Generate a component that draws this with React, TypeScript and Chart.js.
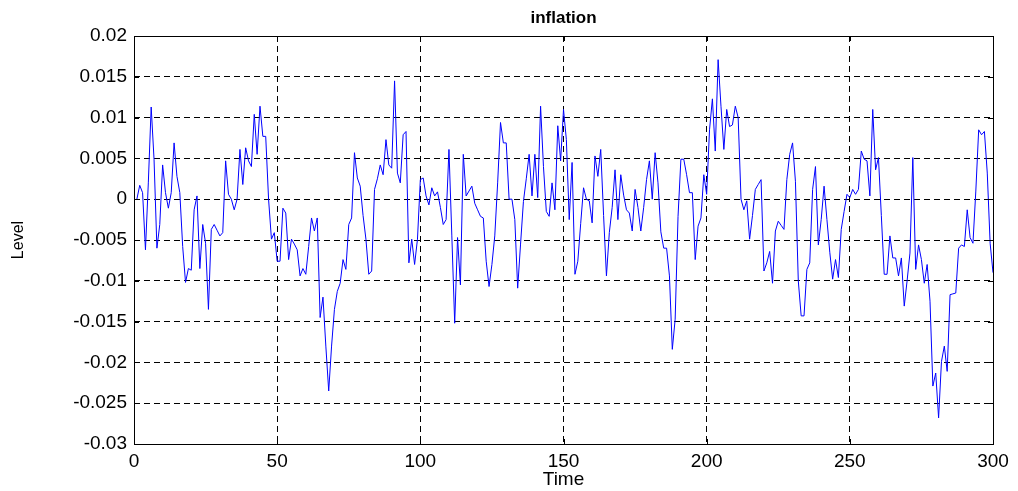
import React, { useEffect, useRef } from 'react';
import { Chart, registerables } from 'chart.js';

Chart.register(...registerables);

const inflation: number[] = [
  0, 0.0017, 0.0008, -0.0062, 0.002, 0.0113, 0.0049, -0.006, -0.0031, 0.0042,
  0.0008, -0.0011, 0.0008, 0.0069, 0.0028, 0.0008, -0.0058, -0.0102, -0.0085, -0.0087,
  -0.0013, 0.0004, -0.0085, -0.0031, -0.0054, -0.0135, -0.0037, -0.0031, -0.0038, -0.0045,
  -0.0041, 0.0047, 0.0006, 0.0, -0.0013, 0.0, 0.0061, 0.0018, 0.0063, 0.0047,
  0.004, 0.0104, 0.0055, 0.0114, 0.0077, 0.0077, 0.0, -0.0049, -0.0041, -0.0076,
  -0.0076, -0.0011, -0.0017, -0.0074, -0.0049, -0.0055, -0.0062, -0.0094, -0.0085, -0.0092,
  -0.0058, -0.0023, -0.0039, -0.0023, -0.0145, -0.012, -0.018, -0.0235, -0.018, -0.0135,
  -0.0113, -0.0103, -0.0074, -0.0086, -0.0031, -0.0023, 0.0057, 0.0026, 0.0016, -0.002,
  -0.0049, -0.0092, -0.0088, 0.0012, 0.0025, 0.0042, 0.003, 0.0073, 0.0042, 0.0038,
  0.0145, 0.0032, 0.002, 0.0079, 0.0083, -0.0078, -0.0049, -0.008, -0.0049, 0.0024,
  0.0026, 0.0004, -0.0007, 0.0014, 0.0004, 0.0009, -0.001, -0.0031, -0.0025, 0.0061,
  -0.0045, -0.0152, -0.0047, -0.0105, 0.0055, 0.0004, 0.001, 0.0016, -0.0005, -0.0013,
  -0.0021, -0.0023, -0.0076, -0.0107, -0.008, -0.0045, 0.002, 0.0094, 0.0069, 0.0069,
  0.0, 0.0, -0.0025, -0.0109, -0.0055, -0.0003, 0.0025, 0.0055, 0.0004, 0.0055,
  0.0002, 0.0114, 0.004, -0.0015, -0.0021, 0.002, -0.0013, 0.009, 0.0047, 0.011,
  0.0073, -0.0025, 0.0045, -0.0092, -0.0076, -0.003, 0.0014, 0.0, -0.0002, -0.0029,
  0.0053, 0.0028, 0.0061, -0.002, -0.0094, -0.0041, -0.001, 0.0036, -0.0025, 0.003,
  0.0005, -0.0013, -0.0017, -0.0039, 0.0012, -0.001, -0.0039, -0.001, 0.0024, 0.0047,
  0.0, 0.0057, 0.002, -0.004, -0.006, -0.006, -0.0094, -0.0184, -0.0147, -0.0021,
  0.0049, 0.0049, 0.003, 0.0008, 0.0008, -0.0074, -0.0033, -0.0023, 0.003, 0.0006,
  0.0085, 0.0123, 0.0059, 0.0171, 0.0114, 0.0061, 0.011, 0.0089, 0.0091, 0.0114,
  0.01, 0.0, -0.0013, -0.0002, -0.0049, -0.002, 0.0012, 0.0018, 0.0024, -0.0088,
  -0.0078, -0.0064, -0.0103, -0.0039, -0.0027, -0.0032, -0.0037, 0.0024, 0.0055, 0.0069,
  0.0022, -0.01, -0.0143, -0.0143, -0.0086, -0.0078, 0.0012, 0.004, -0.0056, -0.0025,
  0.0016, -0.0025, -0.0065, -0.0098, -0.0074, -0.0096, -0.0037, -0.0015, 0.0006, 0.0002,
  0.0012, 0.0006, 0.0012, 0.0059, 0.0049, 0.0047, 0.0004, 0.011, 0.0036, 0.0051,
  -0.002, -0.0092, -0.0092, -0.0045, -0.0072, -0.0072, -0.0094, -0.0072, -0.0131, -0.01,
  -0.0066, 0.0051, -0.0086, -0.0056, -0.0074, -0.0103, -0.008, -0.0125, -0.0229, -0.0213,
  -0.0268, -0.0199, -0.018, -0.0211, -0.0117, -0.0116, -0.0115, -0.006, -0.0056, -0.0058,
  -0.0013, -0.0047, -0.0054, 0.001, 0.0085, 0.0079, 0.0083, 0.0032, -0.0054, -0.009,
];

const timeIndex: number[] = inflation.map((_, i) => i + 1);

const xTickValues: number[] = [0, 50, 100, 150, 200, 250, 300];
const xTickLabels: string[] = ['0', '50', '100', '150', '200', '250', '300'];
const yTickValues: number[] = [-0.03, -0.025, -0.02, -0.015, -0.01, -0.005, 0, 0.005, 0.01, 0.015, 0.02];
const yTickLabels: string[] = ['-0.03', '-0.025', '-0.02', '-0.015', '-0.01', '-0.005', '0', '0.005', '0.01', '0.015', '0.02'];

const titleText = 'inflation';
const xAxisLabel = 'Time';
const yAxisLabel = 'Level';

const FONT = "'Liberation Sans', Arial, sans-serif";

const framePlugin = {
  id: 'matlabFrame',
  afterDraw(chart: any) {
    const { ctx, chartArea, scales } = chart;
    const { left, right, top, bottom } = chartArea;
    ctx.save();
    ctx.strokeStyle = '#000';
    ctx.lineWidth = 1;
    ctx.setLineDash([]);
    ctx.strokeRect(Math.round(left) + 0.5, Math.round(top) + 0.5, Math.round(right - left), Math.round(bottom - top));
    const tl = 5;
    ctx.beginPath();
    xTickValues.forEach((v) => {
      const px = Math.round(scales.x.getPixelForValue(v)) + 0.5;
      ctx.moveTo(px, bottom);
      ctx.lineTo(px, bottom - tl);
      ctx.moveTo(px, top);
      ctx.lineTo(px, top + tl);
    });
    yTickValues.forEach((v) => {
      const py = Math.round(scales.y.getPixelForValue(v)) + 0.5;
      ctx.moveTo(left, py);
      ctx.lineTo(left + tl, py);
      ctx.moveTo(right, py);
      ctx.lineTo(right - tl, py);
    });
    ctx.stroke();

    const cx = (left + right) / 2;
    ctx.fillStyle = '#000';
    ctx.textAlign = 'center';
    ctx.textBaseline = 'middle';
    ctx.font = `bold 17px ${FONT}`;
    ctx.fillText(titleText, cx, 18);
    ctx.font = `19px ${FONT}`;
    ctx.fillText(xAxisLabel, cx, 480);
    ctx.save();
    ctx.translate(19, (top + bottom) / 2);
    ctx.rotate(-Math.PI / 2);
    ctx.font = `16px ${FONT}`;
    ctx.fillText(yAxisLabel, 0, 0);
    ctx.restore();
    ctx.restore();
  },
};

export default function App() {
  const canvasRef = useRef<HTMLCanvasElement | null>(null);

  useEffect(() => {
    document.body.style.margin = '0';
    const canvas = canvasRef.current;
    if (!canvas) return;
    const chart = new Chart(canvas, {
      type: 'line',
      data: {
        datasets: [
          {
            label: titleText,
            data: timeIndex.map((t, i) => ({ x: t, y: inflation[i] })),
            borderColor: '#0000ff',
            borderWidth: 1,
            pointRadius: 0,
            tension: 0,
            fill: false,
          },
        ],
      },
      options: {
        animation: false,
        responsive: true,
        maintainAspectRatio: false,
        layout: { padding: { left: 0, right: 25, top: 36, bottom: 0 } },
        plugins: {
          legend: { display: false },
          title: { display: false },
          tooltip: { enabled: false },
        },
        scales: {
          x: {
            type: 'linear',
            min: 0,
            max: 300,
            afterBuildTicks: (s: any) => {
              s.ticks = xTickValues.map((v) => ({ value: v }));
            },
            afterFit: (s: any) => {
              s.height = 47;
            },
            ticks: {
              autoSkip: false,
              maxRotation: 0,
              padding: 6,
              color: '#000',
              font: { family: FONT, size: 19 },
              callback: (v: any) => {
                const i = xTickValues.findIndex((t) => Math.abs(t - v) < 1e-9);
                return i >= 0 ? xTickLabels[i] : '';
              },
            },
            grid: { color: '#000', lineWidth: 1, drawTicks: false },
            border: { display: false, dash: [6, 4] },
          },
          y: {
            type: 'linear',
            min: -0.03,
            max: 0.02,
            afterBuildTicks: (s: any) => {
              s.ticks = yTickValues.map((v) => ({ value: v }));
            },
            afterFit: (s: any) => {
              s.width = 134;
            },
            ticks: {
              autoSkip: false,
              padding: 7,
              color: '#000',
              font: { family: FONT, size: 19 },
              callback: (v: any) => {
                const i = yTickValues.findIndex((t) => Math.abs(t - v) < 1e-9);
                return i >= 0 ? yTickLabels[i] : '';
              },
            },
            grid: { color: '#000', lineWidth: 1, drawTicks: false },
            border: { display: false, dash: [6, 4] },
          },
        },
      },
      plugins: [framePlugin],
    });
    return () => chart.destroy();
  }, []);

  return (
    <div style={{ position: 'relative', width: 1018, height: 491 }}>
      <canvas ref={canvasRef} />
    </div>
  );
}
